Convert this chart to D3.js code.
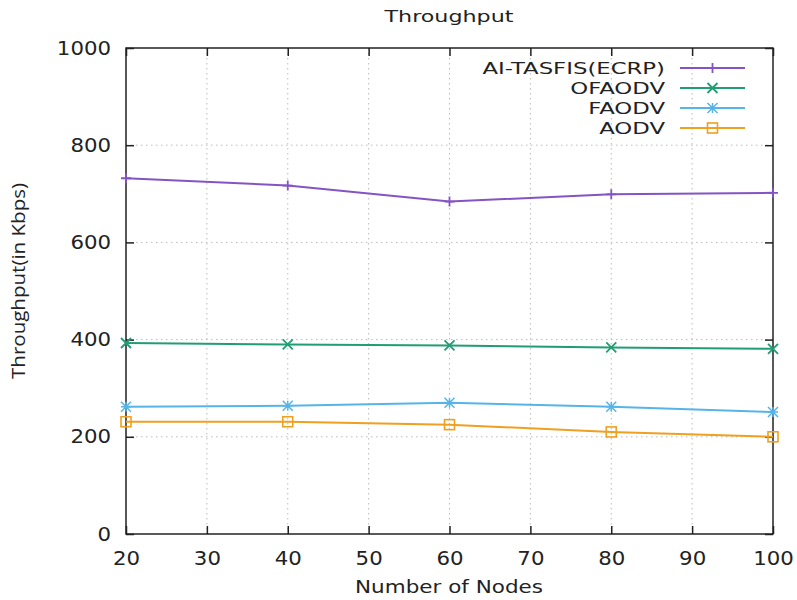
<!DOCTYPE html>
<html><head><meta charset="utf-8">
<script src="https://cdn.jsdelivr.net/npm/d3@7"></script>
<style>body{margin:0;background:#fff}svg{display:block}</style>
</head><body>
<svg id="c" width="797" height="600"></svg>
<script>
const nodes = [20, 40, 60, 80, 100];
const aiTasfis = [732, 717, 684, 699, 702];
const ofaodv = [393, 390, 388, 384, 381];
const faodv = [262, 264, 270, 262, 251];
const aodv = [231, 231, 225, 210, 200];
const seriesNames = ["AI-TASFIS(ECRP)", "OFAODV", "FAODV", "AODV"];
const seriesColors = ["#8454c4", "#1f9e74", "#56b4e9", "#eea020"];
const seriesMarkers = ["plus", "cross", "star", "square"];
const xTicks = [20, 30, 40, 50, 60, 70, 80, 90, 100];
const yTicks = [0, 200, 400, 600, 800, 1000];

const series = [aiTasfis, ofaodv, faodv, aodv].map((v, i) => ({
  name: seriesNames[i], color: seriesColors[i], marker: seriesMarkers[i],
  values: v.map((y, j) => ({x: nodes[j], y}))
}));

const svg = d3.select("#c");
const L = 126, R = 773, T = 48, B = 534;
const x = d3.scaleLinear().domain([20, 100]).range([L, R]);
const y = d3.scaleLinear().domain([0, 1000]).range([B, T]);

// widen text horizontally by a factor, keeping it real text
function stretch(sel, f) {
  sel.each(function() {
    const w = this.getComputedTextLength();
    d3.select(this).attr("textLength", w * f).attr("lengthAdjust", "spacingAndGlyphs");
  });
}

// grid
const grid = svg.append("g").attr("stroke", "#bbb").attr("stroke-dasharray", "1.5,3.5").attr("stroke-width", 1);
xTicks.slice(1, -1).forEach(t => grid.append("line").attr("x1", x(t)).attr("x2", x(t)).attr("y1", T).attr("y2", B));
yTicks.slice(1, -1).forEach(t => grid.append("line").attr("x1", L).attr("x2", R).attr("y1", y(t)).attr("y2", y(t)));

// axes
const fontTick = "DejaVu Sans";
const xAxis = svg.append("g").attr("transform", `translate(0,${B})`)
  .call(d3.axisBottom(x).tickValues(xTicks).tickSize(-8).tickPadding(16).tickFormat(d3.format("d")));
const xAxisTop = svg.append("g").attr("transform", `translate(0,${T})`)
  .call(d3.axisTop(x).tickValues(xTicks).tickSize(-8).tickFormat(""));
const yAxis = svg.append("g").attr("transform", `translate(${L},0)`)
  .call(d3.axisLeft(y).tickValues(yTicks).tickSize(-8).tickPadding(15).tickFormat(d3.format("d")));
const yAxisR = svg.append("g").attr("transform", `translate(${R},0)`)
  .call(d3.axisRight(y).tickValues(yTicks).tickSize(-8).tickFormat(""));
[xAxis, xAxisTop, yAxis, yAxisR].forEach(g => {
  g.select(".domain").remove();
  g.selectAll(".tick line").attr("stroke", "#222").attr("stroke-width", 1.5);
  g.selectAll("text").attr("font-family", fontTick).attr("font-size", 19).attr("fill", "#222");
});
xAxis.selectAll("text").attr("dy", "0.8em");
stretch(xAxis.selectAll("text"), 1.12);
stretch(yAxis.selectAll("text"), 1.12);

svg.append("rect").attr("x", L).attr("y", T).attr("width", R - L).attr("height", B - T)
  .attr("fill", "none").attr("stroke", "#222").attr("stroke-width", 1.5);

// markers
function drawMarker(g, type, cx, cy, color) {
  const s = 5;
  if (type === "plus") {
    g.append("path").attr("d", `M${cx - s},${cy}H${cx + s}M${cx},${cy - s}V${cy + s}`).attr("stroke", color).attr("stroke-width", 1.8).attr("fill", "none");
  } else if (type === "cross") {
    g.append("path").attr("d", `M${cx - s},${cy - s}L${cx + s},${cy + s}M${cx - s},${cy + s}L${cx + s},${cy - s}`).attr("stroke", color).attr("stroke-width", 1.8).attr("fill", "none");
  } else if (type === "star") {
    g.append("path").attr("d", `M${cx - s},${cy}H${cx + s}M${cx},${cy - s}V${cy + s}M${cx - s},${cy - s}L${cx + s},${cy + s}M${cx - s},${cy + s}L${cx + s},${cy - s}`).attr("stroke", color).attr("stroke-width", 1.5).attr("fill", "none");
  } else if (type === "square") {
    g.append("rect").attr("x", cx - 5).attr("y", cy - 5).attr("width", 10).attr("height", 10).attr("stroke", color).attr("stroke-width", 1.6).attr("fill", "none");
  }
}

const line = d3.line().x(d => x(d.x)).y(d => y(d.y));
series.forEach(s => {
  const g = svg.append("g");
  g.append("path").datum(s.values).attr("d", line).attr("fill", "none").attr("stroke", s.color).attr("stroke-width", 2);
  s.values.forEach(d => drawMarker(g, s.marker, x(d.x), y(d.y), s.color));
});

// legend
series.forEach((s, i) => {
  const ly = 68 + i * 20;
  const g = svg.append("g");
  const t = g.append("text").attr("x", 665).attr("y", ly).attr("dy", "0.36em").attr("text-anchor", "end")
    .attr("font-family", fontTick).attr("font-size", 16.5).attr("fill", "#222").text(s.name);
  stretch(t, 1.38);
  g.append("line").attr("x1", 680).attr("x2", 745).attr("y1", ly).attr("y2", ly).attr("stroke", s.color).attr("stroke-width", 2);
  drawMarker(g, s.marker, 712.5, ly, s.color);
});

// titles
const title = svg.append("text").attr("x", 449).attr("y", 22).attr("text-anchor", "middle")
  .attr("font-family", fontTick).attr("font-size", 15).attr("fill", "#222").text("Throughput");
stretch(title, 1.48);
const xl = svg.append("text").attr("x", 449).attr("y", 593).attr("text-anchor", "middle")
  .attr("font-family", fontTick).attr("font-size", 17).attr("fill", "#222").text("Number of Nodes");
xl.attr("textLength", 188).attr("lengthAdjust", "spacingAndGlyphs");
svg.append("text").attr("transform", "translate(25,281) rotate(-90)").attr("text-anchor", "middle")
  .attr("font-family", "Liberation Sans Narrow, Open Sans").attr("font-size", 19).attr("fill", "#222")
  .attr("textLength", 196).attr("lengthAdjust", "spacingAndGlyphs").text("Throughput(in Kbps)");
</script>
</body></html>
